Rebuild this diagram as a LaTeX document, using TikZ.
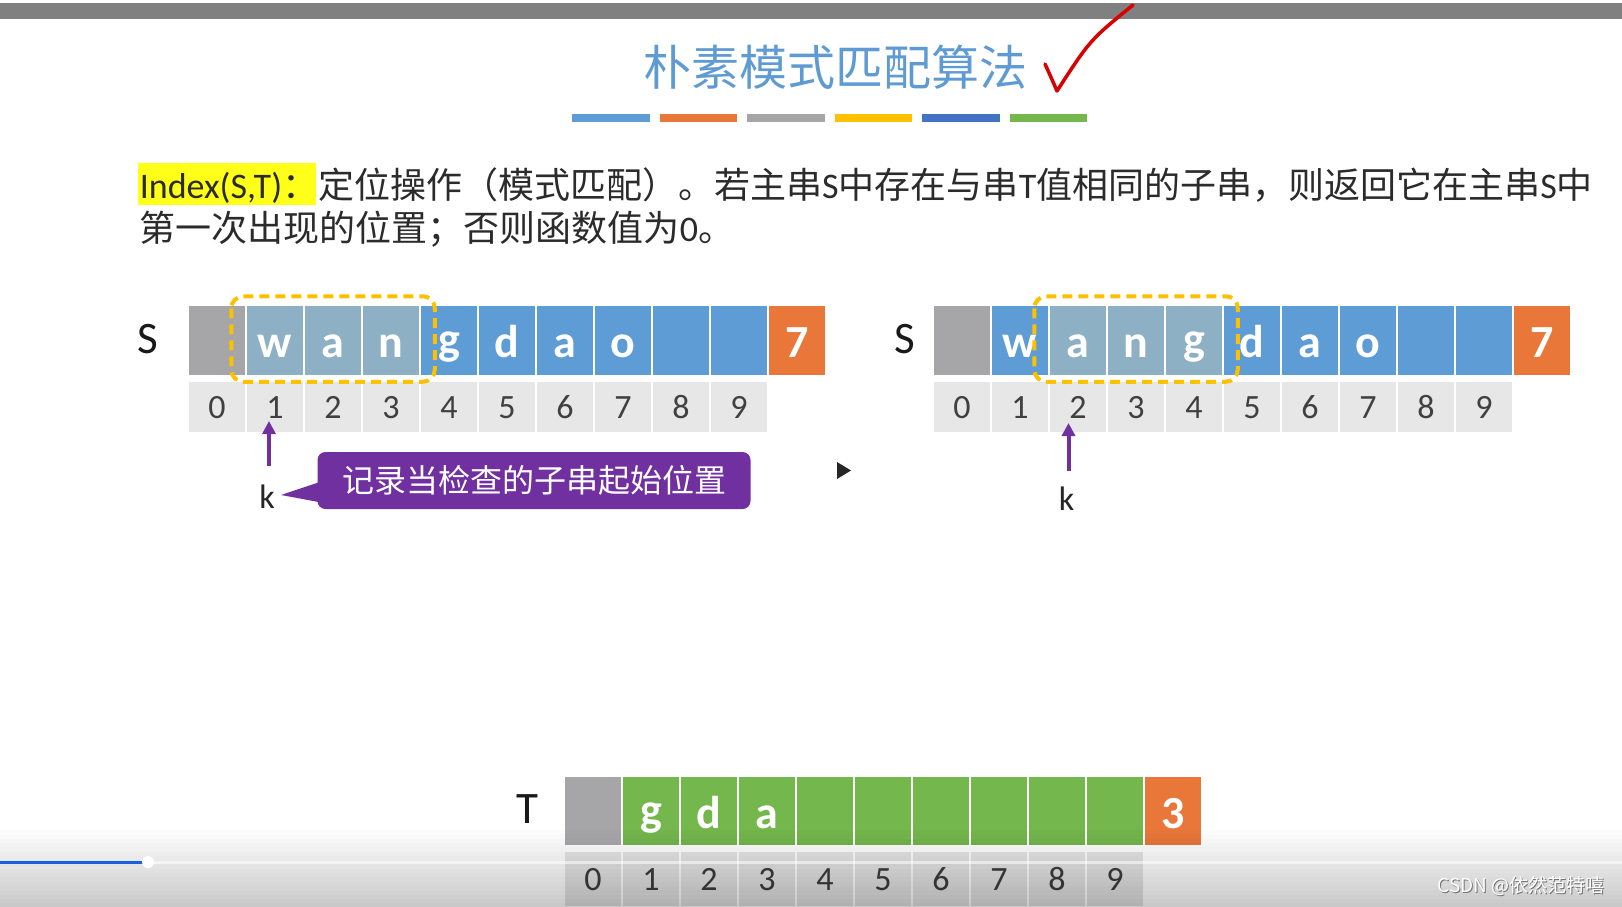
\documentclass[tikz,border=0pt]{standalone}
\usepackage{fontspec}
\setmainfont{Carlito}
\newfontfamily\cjk{Noto Sans CJK SC}
\usetikzlibrary{arrows.meta,calc}
\definecolor{cblue}{HTML}{5E9CD6}
\definecolor{corange}{HTML}{E9773A}
\definecolor{cgrey}{HTML}{A6A6A8}
\definecolor{cyellow}{HTML}{FFC000}
\definecolor{cdblue}{HTML}{4472C4}
\definecolor{cgreen}{HTML}{74B74C}
\definecolor{covl}{HTML}{8EB0C5}
\definecolor{cidx}{HTML}{E8E7E8}
\definecolor{cpurple}{HTML}{7030A0}
\definecolor{ctitle}{HTML}{5F9BD3}
\definecolor{ctext}{HTML}{2B2B2B}
\definecolor{hl}{HTML}{FFFF1A}
\definecolor{pbar}{HTML}{1A5FE0}
\tikzset{
  cell/.style={draw=white, line width=1.5pt, minimum width=58pt, minimum height=70.5pt,
    inner sep=0pt, text=white, font=\fontsize{46}{46}\selectfont\bfseries,
    execute at begin node=\rule[-3pt]{0pt}{40pt}},
  idx/.style={draw=white, line width=1.5pt, fill=cidx, minimum width=58pt, minimum height=50.7pt,
    inner sep=0pt, text=black!75, font=\fontsize{34}{34}\selectfont,
    execute at begin node=\rule[-3pt]{0pt}{29pt}},
  dashbox/.style={draw=cyellow, line width=4pt, dash pattern=on 10pt off 6pt, rounded corners=12pt},
  karrow/.style={draw=cpurple, line width=4pt, -{Triangle[width=13pt,length=13pt]}},
  klab/.style={font=\fontsize{34}{34}\selectfont, text=black!85, inner sep=0pt},
  biglab/.style={font=\fontsize{45}{45}\selectfont, text=black!90, inner sep=0pt},
  bodytext/.style={anchor=base west, inner sep=0pt, text=ctext, font=\fontsize{36}{36}\selectfont},
  callout/.style={fill=cpurple, rounded corners=8pt, minimum width=433pt, minimum height=57pt,
    text=white, font=\cjk\fontsize{32}{32}\selectfont},
}
\begin{document}
\begin{tikzpicture}[x=1pt,y=-1pt]
\useasboundingbox (0,0) rectangle (1622,907);
\fill[white] (0,0) rectangle (1622,907);
% top bar
\fill[black!50] (0,3) rectangle (1622,19);
% title
\node[text=ctitle, font=\cjk\fontsize{48}{48}\selectfont, inner sep=0pt] (title) at (835,67) {朴素模式匹配算法};
% check mark
\draw[red!85!black, line width=3.5pt, line cap=round, line join=round]
  (1045,64) .. controls (1050,75) .. (1057,91) .. controls (1090,40) .. (1133,5);
% colour bars
\foreach \c [count=\i from 0] in {cblue,corange,cgrey,cyellow,cdblue,cgreen}
  \fill[\c] (572+87.5*\i,114) rectangle ++(77.5,8);
% body text
\fill[hl] (137.6,163.4) rectangle (315.5,204.8);
\node[bodytext] (l1) at (139.6,198) {Index(S,T){\cjk ：定位操作（模式匹配）。若主串}S{\cjk 中存在与串}T{\cjk 值相同的子串，则返回它在主串}S{\cjk 中}};
\node[bodytext] (l2) at (139.6,241) {{\cjk 第一次出现的位置；否则函数值为}0{\cjk 。}};
% left S array
\node[biglab] (SL) at (148,339) {S};
\foreach \col/\ch [count=\i from 0] in {cgrey/,covl/w,covl/a,covl/n,cblue/g,cblue/d,cblue/a,cblue/o,cblue/,cblue/,corange/7}
  \node[cell, fill=\col] (sL\i) at (217+58*\i,340.25) {\ch};
\foreach \i in {0,...,9}
  \node[idx] (iL\i) at (217+58*\i,407) {\i};
\draw[dashbox] ([xshift=-14pt,yshift=8pt]sL1.north west) rectangle ([xshift=14pt,yshift=-5.5pt]sL3.south east);
\node[klab] (kL) at (267,496.5) {k};
\coordinate (kLa) at (269,466);
\coordinate (kLb) at (269,421);
\draw[karrow] (kLa) -- (kLb);
\node[callout] (co) at (534,480.5) {记录当检查的子串起始位置};
\fill[cpurple] ([xshift=4pt,yshift=-1pt]co.west) -- (281,495) -- ([xshift=4pt,yshift=-22pt]co.west) -- cycle;
% play triangle
\fill[black!85] (837,462) -- (851,470.5) -- (837,479) -- cycle;
% right S array
\node[biglab] (SR) at (905,339) {S};
\foreach \col/\ch [count=\i from 0] in {cgrey/,cblue/w,covl/a,covl/n,covl/g,cblue/d,cblue/a,cblue/o,cblue/,cblue/,corange/7}
  \node[cell, fill=\col] (sR\i) at (962+58*\i,340.25) {\ch};
\foreach \i in {0,...,9}
  \node[idx] (iR\i) at (962+58*\i,407) {\i};
\draw[dashbox] ([xshift=-14pt,yshift=8pt]sR2.north west) rectangle ([xshift=14pt,yshift=-5.5pt]sR4.south east);
\node[klab] (kR) at (1066.5,498.5) {k};
\coordinate (kRa) at (1068.5,471);
\coordinate (kRb) at (1068.5,423);
\draw[karrow] (kRa) -- (kRb);
% T array
\node[biglab] (TL) at (527.5,809) {T};
\foreach \col/\ch [count=\i from 0] in {cgrey/,cgreen/g,cgreen/d,cgreen/a,cgreen/,cgreen/,cgreen/,cgreen/,cgreen/,cgreen/,corange/3}
  \node[cell, fill=\col, minimum height=70pt] (t\i) at (593+58*\i,811) {\ch};
\foreach \i in {0,...,9}
  \node[idx, minimum height=56pt] (ti\i) at (593+58*\i,879) {\i};
% video overlay gradient
\foreach \j in {0,...,17}
  \fill[black, opacity=0.013] (0,830+4.3*\j) rectangle (1622,907);
\draw[white, opacity=0.55, line width=3pt] (148,862) -- (1622,862);
\draw[pbar, line width=3pt] (0,862) -- (148,862);
\fill[white] (148,862) circle (6pt);
% watermark
\node[anchor=east, text=black!55, font=\cjk\fontsize{19}{19}\selectfont, inner sep=0pt] (wms) at (1606,887) {CSDN @依然范特嘻};
\node[anchor=east, text=white, font=\cjk\fontsize{19}{19}\selectfont, inner sep=0pt] (wm) at (1605,886) {CSDN @依然范特嘻};
\end{tikzpicture}
\end{document}
